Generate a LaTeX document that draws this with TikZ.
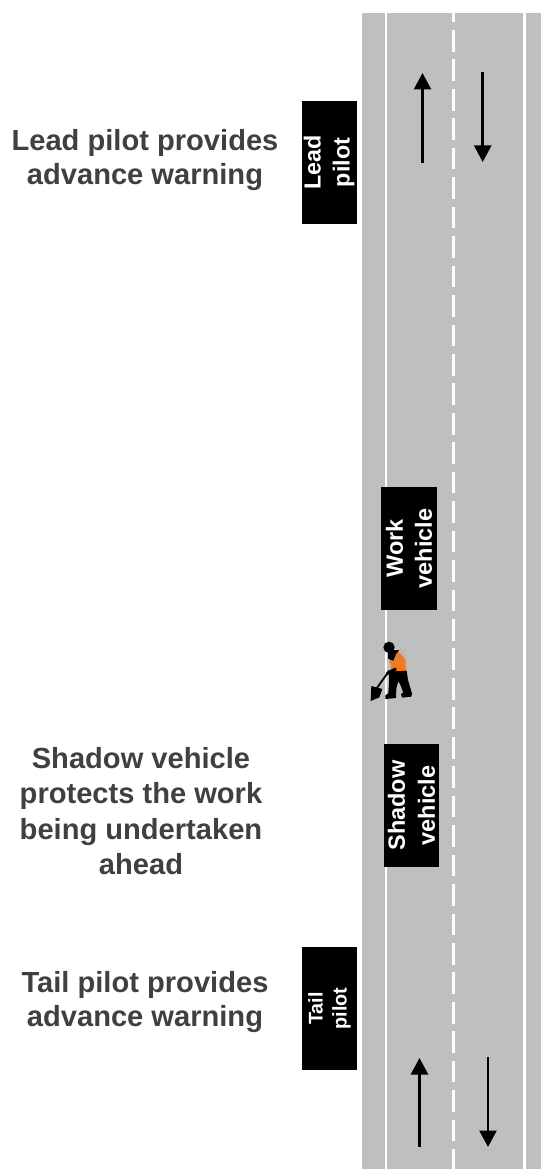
\documentclass[tikz,border=0pt]{standalone}
\usepackage{fontspec}
\setmainfont{Liberation Sans}
\usetikzlibrary{arrows.meta}
\definecolor{road}{HTML}{BFBFBF}
\definecolor{captext}{HTML}{404040}
\definecolor{vest}{HTML}{F07A22}
\tikzset{
  x=1pt,y=-1pt,
  caption/.style={align=center,text=captext,font=\bfseries\fontsize{29.1}{34}\selectfont,inner sep=0pt},
  vehicle/.style={fill=black,draw=none,minimum width=123pt,minimum height=55pt,inner sep=0pt,rotate=90,text=white,align=center},
  laneline/.style={draw=white,line width=2.7pt},
  centreline/.style={draw=white,line width=2.7pt,dash pattern=on 21.7pt off 7.75pt},
  flow/.style={draw=black,line width=2.6pt,-{Triangle[length=16.5pt,width=17pt]}},
}
\begin{document}
\begin{tikzpicture}
\useasboundingbox (0,0) rectangle (541,1169);
\fill[road] (362,13) rectangle (541,1169);
\coordinate (la) at (386,13); \coordinate (lb) at (386,1169);
\coordinate (ra) at (524.5,13); \coordinate (rb) at (524.5,1169);
\coordinate (ca) at (453.3,0.55); \coordinate (cb) at (453.3,1169);
\draw[laneline] (la) -- (lb);
\draw[laneline] (ra) -- (rb);
\begin{scope}
\clip (362,13) rectangle (541,1169);
\draw[centreline] (ca) -- (cb);
\end{scope}
\coordinate (a1s) at (422.5,163); \coordinate (a1e) at (422.5,73);
\coordinate (a2s) at (482.7,72.5); \coordinate (a2e) at (482.7,162);
\coordinate (a3s) at (419.5,1147); \coordinate (a3e) at (419.5,1058);
\coordinate (a4s) at (488,1057); \coordinate (a4e) at (488,1147);
\draw[flow] (a1s) -- (a1e);
\draw[flow] (a2s) -- (a2e);
\draw[flow] (a3s) -- (a3e);
\draw[flow] (a4s) -- (a4e);
\node[vehicle,font=\bfseries\fontsize{23.3}{29}\selectfont] (lead) at (329,162.5) {Lead\\pilot};
\node[vehicle,font=\bfseries\fontsize{19.8}{24}\selectfont] (tail) at (329.5,1008.5) {Tail\\pilot};
\node[vehicle,font=\bfseries\fontsize{23.5}{29}\selectfont,minimum height=56pt] (work) at (409,548.5) {Work\\vehicle};
\node[vehicle,font=\bfseries\fontsize{23.5}{30}\selectfont] (shadow) at (411.5,805.5) {Shadow\\vehicle};
\node[caption] (c1) at (145,160.5) {Lead pilot provides\\advance warning};
\node[caption,font=\bfseries\fontsize{29.1}{35.5}\selectfont] (c2) at (141,811) {Shadow vehicle\\protects the work\\being undertaken\\ahead};
\node[caption] (c3) at (145,1002.5) {Tail pilot provides\\advance warning};
% worker, drawn in the coordinates of a 3x crop
\begin{scope}[shift={(350,620)},x=0.3333pt,y=-0.3333pt]
\draw[gray!70,line width=0.5pt] (150,85) .. controls (165,100) and (170,125) .. (168,152);
\fill[vest] (126,95) .. controls (145,86) and (160,105) .. (166,125) -- (167,155) -- (120,158) -- (123,135) .. controls (116,125) and (116,105) .. (126,95) -- cycle;
\fill[black] (117,82) circle (17);
\fill[black] (114,90) -- (148,90) -- (138,102) -- (130,122) -- (114,116) -- cycle;
\fill[black] (118,155) -- (170,152) -- (174,180) -- (186,220) -- (184,230) -- (156,233) -- (153,222) -- (160,218) -- (150,192) -- (145,184) -- (139,205) -- (138,234) -- (106,237) -- (106,226) -- (115,220) -- (117,190) -- cycle;
\draw[black,line width=3.2pt,line cap=round] (136,148) -- (112,160);
\draw[black,line width=1.8pt] (118,152) -- (80,205);
\fill[black] (64,198) -- (97,207) -- (88,232) -- (62,243) -- cycle;
\end{scope}
\end{tikzpicture}
\end{document}
